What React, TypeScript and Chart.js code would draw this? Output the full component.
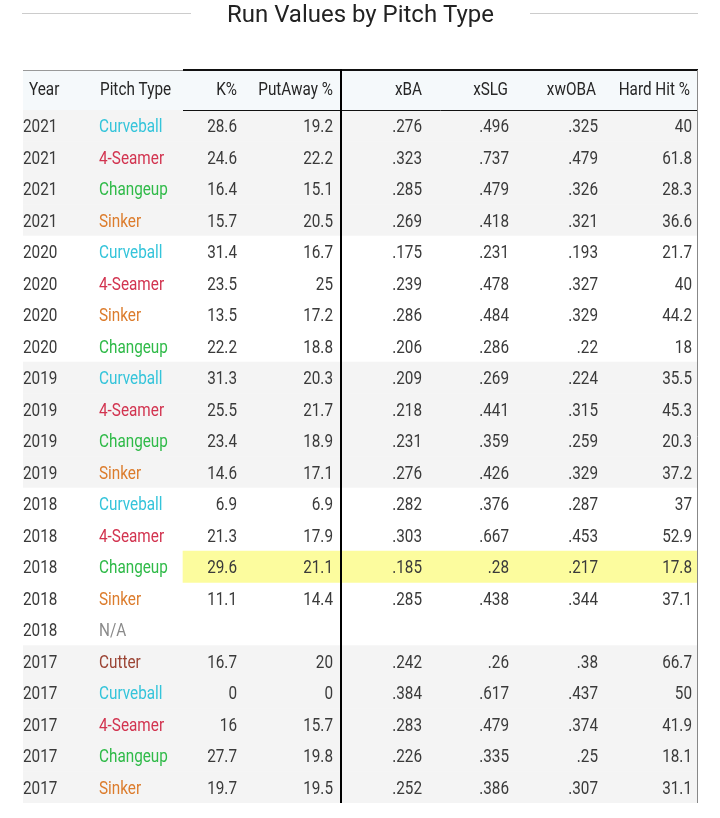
import React, { useEffect, useRef } from "react";
import { Chart, registerables } from "chart.js";

Chart.register(...registerables);

const title = "Run Values by Pitch Type";
const headers = ["Year", "Pitch Type", "K%", "PutAway %", "xBA", "xSLG", "xwOBA", "Hard Hit %"];

const years = [
  2021, 2021, 2021, 2021,
  2020, 2020, 2020, 2020,
  2019, 2019, 2019, 2019,
  2018, 2018, 2018, 2018, 2018,
  2017, 2017, 2017, 2017, 2017,
];
const pitchTypes = [
  "Curveball", "4-Seamer", "Changeup", "Sinker",
  "Curveball", "4-Seamer", "Sinker", "Changeup",
  "Curveball", "4-Seamer", "Changeup", "Sinker",
  "Curveball", "4-Seamer", "Changeup", "Sinker", "N/A",
  "Cutter", "Curveball", "4-Seamer", "Changeup", "Sinker",
];
const kPct = [28.6, 24.6, 16.4, 15.7, 31.4, 23.5, 13.5, 22.2, 31.3, 25.5, 23.4, 14.6, 6.9, 21.3, 29.6, 11.1, null, 16.7, 0, 16, 27.7, 19.7];
const putAwayPct = [19.2, 22.2, 15.1, 20.5, 16.7, 25, 17.2, 18.8, 20.3, 21.7, 18.9, 17.1, 6.9, 17.9, 21.1, 14.4, null, 20, 0, 15.7, 19.8, 19.5];
const xBA = [0.276, 0.323, 0.285, 0.269, 0.175, 0.239, 0.286, 0.206, 0.209, 0.218, 0.231, 0.276, 0.282, 0.303, 0.185, 0.285, null, 0.242, 0.384, 0.283, 0.226, 0.252];
const xSLG = [0.496, 0.737, 0.479, 0.418, 0.231, 0.478, 0.484, 0.286, 0.269, 0.441, 0.359, 0.426, 0.376, 0.667, 0.28, 0.438, null, 0.26, 0.617, 0.479, 0.335, 0.386];
const xwOBA = [0.325, 0.479, 0.326, 0.321, 0.193, 0.327, 0.329, 0.22, 0.224, 0.315, 0.259, 0.329, 0.287, 0.453, 0.217, 0.344, null, 0.38, 0.437, 0.374, 0.25, 0.307];
const hardHitPct = [40, 61.8, 28.3, 36.6, 21.7, 40, 44.2, 18, 35.5, 45.3, 20.3, 37.2, 37, 52.9, 17.8, 37.1, null, 66.7, 50, 41.9, 18.1, 31.1];
const highlightRows = [14];

const pitchColors: Record<string, string> = {
  Curveball: "#34c4da",
  "4-Seamer": "#d2334f",
  Changeup: "#2fba48",
  Sinker: "#dc7c2c",
  Cutter: "#9b4434",
  "N/A": "#8a8a8a",
};

// layout (x positions in table units; table spans 0..675)
const TABLE_W = 675;
const columns = [
  { align: "left", x: 0, hx: 6 },
  { align: "left", x: 76, hx: 77 },
  { align: "right", x: 214, hx: 214 },
  { align: "right", x: 310, hx: 310 },
  { align: "right", x: 399, hx: 399 },
  { align: "right", x: 486, hx: 485 },
  { align: "right", x: 575, hx: 573 },
  { align: "right", x: 669, hx: 667 },
];
const NUM_START = 160;
const SEP_X = 318;
const HEADER_H = 40;
const SX = 0.85;

const fmtNum = (v: number | null) => (v === null ? "" : String(v));
const fmtAvg = (v: number | null) => (v === null ? "" : String(v).replace(/^0/, ""));

function drawText(ctx: CanvasRenderingContext2D, text: string, x: number, y: number, align: CanvasTextAlign, sx: number) {
  ctx.save();
  ctx.translate(x, y);
  ctx.scale(sx, 1);
  ctx.textAlign = align;
  ctx.textBaseline = "alphabetic";
  ctx.fillText(text, 0, 0);
  ctx.restore();
}

const tablePlugin = {
  id: "tablePlugin",
  beforeDatasetsDraw(chart: any) {
    const ctx = chart.ctx as CanvasRenderingContext2D;
    const xs = chart.scales.x;
    const top = chart.chartArea.top;
    ctx.save();
    ctx.fillStyle = "#f5f9fb";
    ctx.fillRect(xs.getPixelForValue(0), top - HEADER_H, xs.getPixelForValue(TABLE_W) - xs.getPixelForValue(0), HEADER_H);
    ctx.restore();
  },
  afterDatasetsDraw(chart: any) {
    const ctx = chart.ctx as CanvasRenderingContext2D;
    const xs = chart.scales.x;
    const ys = chart.scales.y;
    const { top, bottom } = chart.chartArea;
    const px = (v: number) => xs.getPixelForValue(v);

    // title
    ctx.save();
    ctx.font = "24px Roboto";
    ctx.fillStyle = "#222";
    const tw = ctx.measureText(title).width;
    drawText(ctx, title, 360.5, 22, "center", 267 / tw);
    ctx.strokeStyle = "#cccccc";
    ctx.lineWidth = 1;
    ctx.beginPath();
    ctx.moveTo(px(0) - 1, 13.5);
    ctx.lineTo(191, 13.5);
    ctx.moveTo(530, 13.5);
    ctx.lineTo(px(TABLE_W), 13.5);
    ctx.stroke();
    ctx.restore();

    // header
    ctx.save();
    ctx.font = "18px Roboto";
    ctx.fillStyle = "#262626";
    const hy = top - HEADER_H / 2 + 6.5 - 2;
    headers.forEach((h, c) => {
      drawText(ctx, h, px(columns[c].hx), hy, columns[c].align as CanvasTextAlign, SX);
    });
    ctx.restore();

    // cells
    ctx.save();
    ctx.font = "18px Roboto";
    for (let i = 0; i < years.length; i++) {
      const y = ys.getPixelForValue(i) + 6.5;
      const cells = [
        String(years[i]),
        pitchTypes[i],
        fmtNum(kPct[i]),
        fmtNum(putAwayPct[i]),
        fmtAvg(xBA[i]),
        fmtAvg(xSLG[i]),
        fmtAvg(xwOBA[i]),
        fmtNum(hardHitPct[i]),
      ];
      cells.forEach((t, c) => {
        ctx.fillStyle = c === 1 ? pitchColors[t] || "#333" : "#3a3a3a";
        drawText(ctx, t, px(columns[c].x), y, columns[c].align as CanvasTextAlign, SX);
      });
    }
    ctx.restore();

    // borders
    ctx.save();
    const ht = top - HEADER_H;
    ctx.strokeStyle = "#999";
    ctx.lineWidth = 1;
    ctx.beginPath();
    ctx.moveTo(px(0), ht + 0.5);
    ctx.lineTo(px(NUM_START), ht + 0.5);
    ctx.stroke();
    ctx.strokeStyle = "#111";
    ctx.lineWidth = 2;
    ctx.beginPath();
    ctx.moveTo(px(NUM_START), ht);
    ctx.lineTo(px(TABLE_W), ht);
    ctx.stroke();
    ctx.lineWidth = 1;
    ctx.beginPath();
    ctx.moveTo(px(NUM_START), top + 0.5);
    ctx.lineTo(px(TABLE_W), top + 0.5);
    ctx.stroke();
    ctx.strokeStyle = "#000";
    ctx.lineWidth = 2;
    ctx.beginPath();
    ctx.moveTo(px(SEP_X), ht - 1);
    ctx.lineTo(px(SEP_X), bottom);
    ctx.stroke();
    ctx.strokeStyle = "#888";
    ctx.lineWidth = 1;
    ctx.beginPath();
    ctx.moveTo(px(TABLE_W) - 0.5, ht);
    ctx.lineTo(px(TABLE_W) - 0.5, bottom);
    ctx.stroke();
    ctx.restore();
  },
};

export default function App() {
  const ref = useRef<HTMLCanvasElement | null>(null);
  useEffect(() => {
    if (!ref.current) return;
    const uniqueYears = Array.from(new Set(years));
    const labels = years.map((y, i) => `${y} ${pitchTypes[i]}`);
    const chart = new Chart(ref.current, {
      type: "bar",
      data: {
        labels,
        datasets: [
          {
            data: years.map(() => [0, TABLE_W]) as any,
            backgroundColor: years.map((y) => (uniqueYears.indexOf(y) % 2 === 0 ? "#f4f4f4" : "#ffffff")),
            borderWidth: 0,
            barPercentage: 1,
            categoryPercentage: 1,
            grouped: false,
            order: 2,
          } as any,
          {
            data: years.map((_, i) => (highlightRows.includes(i) ? [NUM_START, TABLE_W] : null)) as any,
            backgroundColor: "#fcfc9e",
            borderWidth: 0,
            barPercentage: 1,
            categoryPercentage: 1,
            grouped: false,
            order: 1,
          } as any,
        ],
      },
      options: {
        indexAxis: "y",
        responsive: false,
        animation: false,
        devicePixelRatio: 1,
        events: [],
        layout: { padding: { left: 23, right: 22, top: 110, bottom: 15 } },
        plugins: { legend: { display: false }, tooltip: { enabled: false }, title: { display: false } },
        scales: {
          x: { type: "linear", min: 0, max: TABLE_W, display: false },
          y: { type: "category", display: false, offset: true },
        },
      },
      plugins: [tablePlugin],
    });
    return () => chart.destroy();
  }, []);
  return (
    <div style={{ position: "fixed", left: 0, top: 0, width: 720, height: 818, background: "#fff" }}>
      <canvas ref={ref} width={720} height={818} style={{ display: "block", width: 720, height: 818 }} />
    </div>
  );
}
